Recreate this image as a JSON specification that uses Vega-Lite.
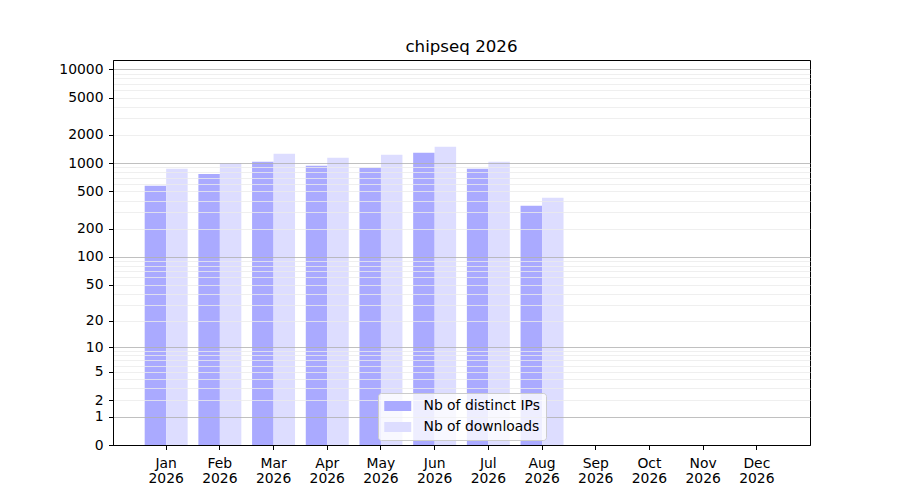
{
  "$schema": "https://vega.github.io/schema/vega-lite/v6.json",
  "width": 697,
  "height": 385,
  "autosize": "none",
  "padding": {"left": 113, "top": 60, "right": 90, "bottom": 55},
  "background": "white",
  "title": {"text": "chipseq 2026", "font": "DejaVu Sans", "fontSize": 16.67, "fontWeight": "normal", "color": "black", "anchor": "middle", "baseline": "alphabetic", "offset": -9},
  "config": {
    "view": {"stroke": "black", "strokeWidth": 1},
    "font": "DejaVu Sans"
  },
  "data": {
    "values": [
      {"month": "Jan 2026", "series": "Nb of distinct IPs", "value": 573},
      {"month": "Jan 2026", "series": "Nb of downloads", "value": 870},
      {"month": "Feb 2026", "series": "Nb of distinct IPs", "value": 769},
      {"month": "Feb 2026", "series": "Nb of downloads", "value": 1005},
      {"month": "Mar 2026", "series": "Nb of distinct IPs", "value": 1033},
      {"month": "Mar 2026", "series": "Nb of downloads", "value": 1257},
      {"month": "Apr 2026", "series": "Nb of distinct IPs", "value": 937},
      {"month": "Apr 2026", "series": "Nb of downloads", "value": 1140},
      {"month": "May 2026", "series": "Nb of distinct IPs", "value": 892},
      {"month": "May 2026", "series": "Nb of downloads", "value": 1227},
      {"month": "Jun 2026", "series": "Nb of distinct IPs", "value": 1289},
      {"month": "Jun 2026", "series": "Nb of downloads", "value": 1493},
      {"month": "Jul 2026", "series": "Nb of distinct IPs", "value": 870},
      {"month": "Jul 2026", "series": "Nb of downloads", "value": 1033},
      {"month": "Aug 2026", "series": "Nb of distinct IPs", "value": 351},
      {"month": "Aug 2026", "series": "Nb of downloads", "value": 427}
    ]
  },
  "mark": {"type": "bar"},
  "encoding": {
    "x": {
      "field": "month",
      "type": "nominal",
      "sort": null,
      "scale": {
        "domain": ["Jan 2026", "Feb 2026", "Mar 2026", "Apr 2026", "May 2026", "Jun 2026", "Jul 2026", "Aug 2026", "Sep 2026", "Oct 2026", "Nov 2026", "Dec 2026"],
        "paddingInner": 0.2,
        "paddingOuter": 0.59
      },
      "axis": {
        "title": null,
        "labelAngle": 0,
        "labelExpr": "split(datum.label, ' ')",
        "labelFont": "DejaVu Sans",
        "labelFontSize": 13.9,
        "labelColor": "black",
        "labelLineHeight": 15.4,
        "labelPadding": 6.5,
        "tickSize": 4.5,
        "tickColor": "black",
        "domainColor": "black",
        "grid": false
      }
    },
    "xOffset": {
      "field": "series",
      "type": "nominal",
      "scale": {"domain": ["Nb of distinct IPs", "Nb of downloads"], "paddingInner": 0, "paddingOuter": 0}
    },
    "y": {
      "field": "value",
      "type": "quantitative",
      "scale": {"type": "symlog", "constant": 1, "domain": [0, 12560], "nice": false, "zero": false},
      "axis": {
        "title": null,
        "zindex": 1,
        "format": "d",
        "values": [0, 1, 2, 3, 4, 5, 6, 7, 8, 9, 10, 20, 30, 40, 50, 60, 70, 80, 90, 100, 200, 300, 400, 500, 600, 700, 800, 900, 1000, 2000, 3000, 4000, 5000, 6000, 7000, 8000, 9000, 10000],
        "labelExpr": "indexof([0,1,2,5,10,20,50,100,200,500,1000,2000,5000,10000], datum.value) >= 0 ? datum.label : ''",
        "labelFont": "DejaVu Sans",
        "labelFontSize": 13.9,
        "labelColor": "black",
        "labelPadding": 5.5,
        "labelOverlap": false,
        "labelFlush": false,
        "tickSize": 4.5,
        "tickColor": "black",
        "tickOpacity": {"condition": {"test": "indexof([0,1,2,5,10,20,50,100,200,500,1000,2000,5000,10000], datum.value) >= 0", "value": 1}, "value": 0},
        "domainColor": "black",
        "grid": true,
        "gridColor": {"condition": {"test": "indexof([1,10,100,1000,10000], datum.value) >= 0", "value": "#b0b0b0"}, "value": "#ebebeb"},
        "gridOpacity": {"condition": {"test": "datum.value == 0", "value": 0}, "value": 1},
        "gridWidth": 0.8
      }
    },
    "color": {
      "field": "series",
      "type": "nominal",
      "scale": {"domain": ["Nb of distinct IPs", "Nb of downloads"], "range": ["#aaaaff", "#ddddff"]},
      "legend": {
        "title": null,
        "orient": "none",
        "legendX": 265,
        "legendY": 333,
        "zindex": 2,
        "padding": 6,
        "fillColor": "rgba(255,255,255,0.8)",
        "strokeColor": "#cccccc",
        "cornerRadius": 3,
        "symbolType": "M-1,-0.74h4v1.48h-4z",
        "symbolSize": 182,
        "symbolOpacity": 1,
        "symbolStrokeWidth": 0,
        "labelOffset": 25.5,
        "labelFont": "DejaVu Sans",
        "labelFontSize": 13.9,
        "labelColor": "black",
        "rowPadding": 7
      }
    }
  }
}
